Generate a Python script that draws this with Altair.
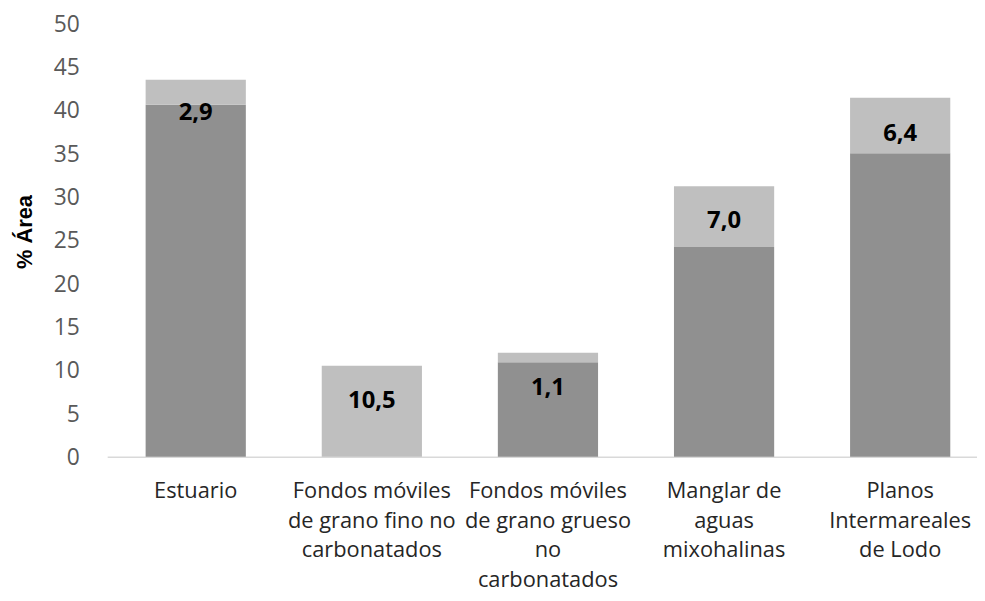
import altair as alt
import pandas as pd

categories = [
    "Estuario",
    "Fondos móviles|de grano fino no|carbonatados",
    "Fondos móviles|de grano grueso|no|carbonatados",
    "Manglar de|aguas|mixohalinas",
    "Planos|Intermareales|de Lodo",
]
dark_values = [40.6, 0.0, 10.9, 24.2, 35.0]
light_values = [2.9, 10.5, 1.1, 7.0, 6.4]
label_anchor = [39.6, 6.4, 7.9, 27.2, 37.2]
y_ticks = [0, 5, 10, 15, 20, 25, 30, 35, 40, 45, 50]

rows = []
for i, c in enumerate(categories):
    rows.append({"cat": c, "serie": "base", "orden": 0, "valor": dark_values[i]})
    rows.append({"cat": c, "serie": "extra", "orden": 1, "valor": light_values[i]})
bars_df = pd.DataFrame(rows)

labels_df = pd.DataFrame({
    "cat": categories,
    "pos": label_anchor,
    "texto": [f"{v:.1f}".replace(".", ",") for v in light_values],
})

x_enc = alt.X(
    "cat:N",
    sort=categories,
    scale=alt.Scale(paddingInner=0.431, paddingOuter=0.185, align=0.59),
    axis=alt.Axis(
        title=None,
        labelAngle=0,
        labelExpr="split(datum.label, '|')",
        labelFont="Open Sans",
        labelFontSize=22,
        labelColor="#262626",
        labelLineHeight=30,
        labelBaseline="top",
        labelPadding=24,
        labelLimit=400,
        ticks=False,
        domainColor="#d9d9d9",
        domainWidth=1.5,
    ),
)

bars = alt.Chart(bars_df).mark_bar().encode(
    x=x_enc,
    y=alt.Y(
        "valor:Q",
        stack="zero",
        scale=alt.Scale(domain=[0, 50], nice=False),
        axis=alt.Axis(
            values=y_ticks,
            title="% Área",
            titleFont="Liberation Sans",
            titleFontSize=22,
            titleFontWeight="bold",
            titleColor="#000000",
            titleAngle=270,
            titleAlign="center",
            titleBaseline="middle",
            titleX=-83,
            titleY=210,
            labelFont="Open Sans",
            labelFontSize=23,
            labelColor="#595959",
            labelPadding=28,
            labelOffset=1,
            ticks=False,
            domain=False,
            grid=False,
        ),
    ),
    color=alt.Color(
        "serie:N",
        scale=alt.Scale(domain=["base", "extra"], range=["#909090", "#bfbfbf"]),
        legend=None,
    ),
    order=alt.Order("orden:Q"),
)

texts = alt.Chart(labels_df).mark_text(
    font="Open Sans",
    fontSize=24,
    fontWeight="bold",
    color="#000000",
    baseline="middle",
    align="center",
).encode(
    x=alt.X("cat:N", sort=categories),
    y=alt.Y("pos:Q"),
    text="texto:N",
)

chart = (
    alt.layer(bars, texts)
    .properties(
        width=877,
        height=437,
        background="white",
        autosize=alt.AutoSizeParams(type="none"),
        padding={"left": 100, "top": 13, "right": 0, "bottom": 135},
    )
    .configure_view(strokeWidth=0, stroke=None)
)

chart.save("out.html", embed_options={"renderer": "svg", "actions": False})
